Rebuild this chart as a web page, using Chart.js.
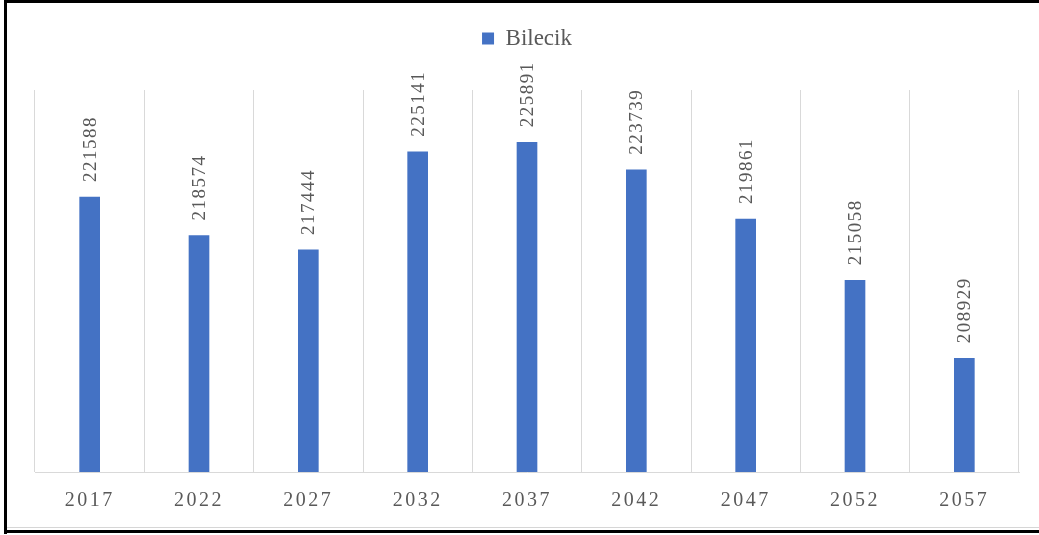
<!DOCTYPE html>
<html>
<head>
<meta charset="utf-8">
<script src="https://cdn.jsdelivr.net/npm/chart.js@4.4.1/dist/chart.umd.min.js"></script>
<style>
  html, body { margin: 0; padding: 0; background: #fff; }
  #wrap { position: relative; width: 1039px; height: 535px; }
  #warm { position: absolute; left: -9999px; top: 0; font-family: "Liberation Serif"; }
</style>
</head>
<body>
<div id="warm">2017 Bilecik</div>
<div id="wrap"><canvas id="c" width="1039" height="535"></canvas></div>
<script>
const years = ['2017', '2022', '2027', '2032', '2037', '2042', '2047', '2052', '2057'];
const bilecik = [221588, 218574, 217444, 225141, 225891, 223739, 219861, 215058, 208929];
const seriesName = 'Bilecik';
const yMin = 200000;
const yMax = 230000;

const TEXT = '#595959';
const BLUE = '#4472C4';
const GRID = '#d9d9d9';
const SERIF = "'Liberation Serif', 'Times New Roman', Times, serif";

const framePlugin = {
  id: 'frame',
  beforeDraw(chart) {
    const ctx = chart.ctx;
    ctx.save();
    ctx.fillStyle = '#ffffff';
    ctx.fillRect(0, 0, chart.width, chart.height);
    ctx.restore();
  },
  afterDraw(chart) {
    const ctx = chart.ctx;
    ctx.save();
    ctx.fillStyle = '#d6d6d6';
    ctx.fillRect(7, 527, chart.width - 7, 1);
    ctx.fillStyle = '#000000';
    ctx.fillRect(4, 0, chart.width - 4, 3);
    ctx.fillRect(4, 0, 3, 534);
    ctx.fillRect(4, 530, chart.width - 4, 3);
    ctx.restore();
  }
};

const legendSpace = {
  id: 'legendSpace',
  beforeInit(chart) {
    const fit = chart.legend.fit;
    chart.legend.fit = function () {
      fit.bind(chart.legend)();
      this.height += 30;
    };
  }
};

const spacedTicks = {
  id: 'spacedTicks',
  afterUpdate(chart) {
    const sc = chart.scales.x;
    if (sc && !sc._spacedPatched) {
      const orig = sc.drawLabels;
      sc.drawLabels = function (area) {
        const ctx = this.ctx;
        ctx.save();
        ctx.letterSpacing = '2.5px';
        orig.call(this, area);
        ctx.restore();
      };
      sc._spacedPatched = true;
    }
  }
};

const valueLabels = {
  id: 'valueLabels',
  afterDatasetsDraw(chart) {
    const ctx = chart.ctx;
    const meta = chart.getDatasetMeta(0);
    const data = chart.data.datasets[0].data;
    ctx.save();
    ctx.fillStyle = TEXT;
    ctx.font = '19px ' + SERIF;
    ctx.letterSpacing = '1.5px';
    ctx.textAlign = 'left';
    ctx.textBaseline = 'middle';
    meta.data.forEach((bar, i) => {
      ctx.save();
      ctx.translate(bar.x + 1, bar.y - 15);
      ctx.rotate(-Math.PI / 2);
      ctx.fillText(String(data[i]), 0, 0);
      ctx.restore();
    });
    ctx.restore();
  }
};

function build() {
  new Chart(document.getElementById('c'), {
    type: 'bar',
    data: {
      labels: years,
      datasets: [{
        label: seriesName,
        data: bilecik,
        backgroundColor: BLUE,
        borderWidth: 0,
        barThickness: 20
      }]
    },
    options: {
      responsive: false,
      animation: false,
      devicePixelRatio: 1,
      layout: { padding: { top: 17, left: 35, right: 20, bottom: 5 } },
      plugins: {
        legend: {
          display: true,
          position: 'top',
          labels: {
            boxWidth: 12,
            boxHeight: 12,
            color: TEXT,
            padding: 10,
            font: { family: SERIF, size: 23 }
          }
        },
        tooltip: { enabled: false },
        title: { display: false }
      },
      scales: {
        x: {
          grid: { display: true, color: GRID, lineWidth: 1, drawTicks: false, offset: true },
          border: { display: true, color: GRID, width: 1 },
          ticks: {
            color: TEXT,
            padding: 17,
            font: { family: SERIF, size: 20 }
          }
        },
        y: {
          display: false,
          min: yMin,
          max: yMax
        }
      }
    },
    plugins: [framePlugin, legendSpace, spacedTicks, valueLabels]
  });
}

Promise.all([
  document.fonts.load('20px "Liberation Serif"'),
  document.fonts.load('18px "Liberation Serif"')
]).then(build, build);
</script>
</body>
</html>
